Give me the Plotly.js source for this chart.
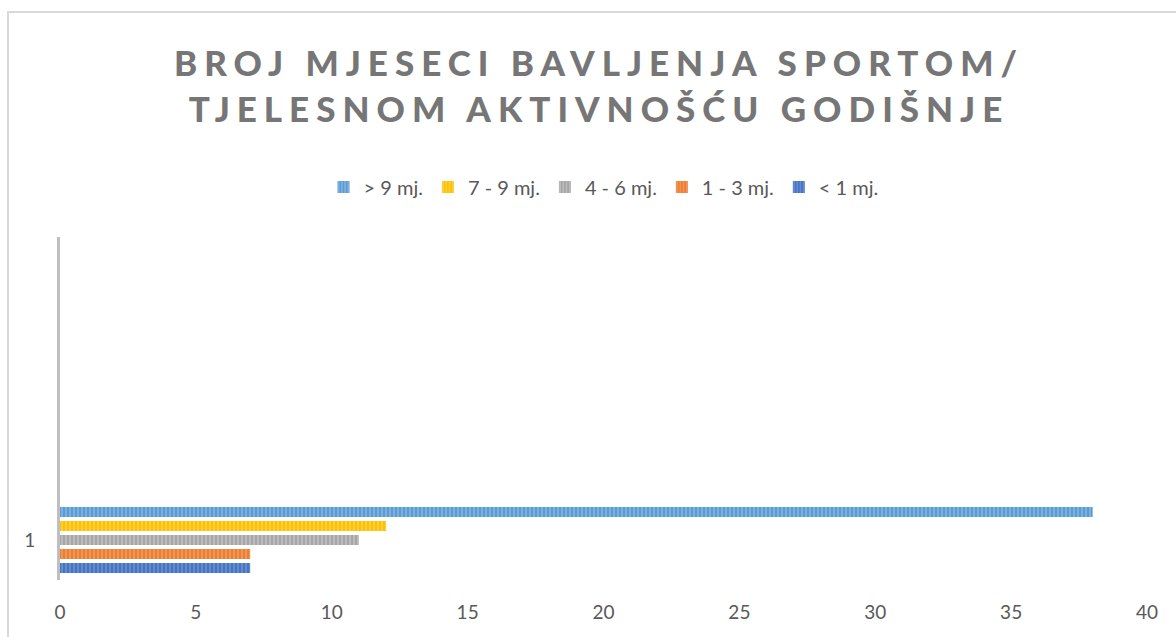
<!DOCTYPE html>
<html>
<head>
<meta charset="utf-8">
<script src="https://cdn.plot.ly/plotly-3.0.1.min.js"></script>
<style>html,body{margin:0;padding:0;background:#fff;}#chart{width:1176px;height:637px;}</style>
</head>
<body>
<div id="chart"></div>
<script>
const categories = ['1'];
const seriesNames = ['< 1 mj.', '1 - 3 mj.', '4 - 6 mj.', '7 - 9 mj.', '> 9 mj.'];
const seriesValues = [[7], [7], [11], [12], [38]];
const seriesColors = ['#4472C4', '#ED7D31', '#A5A5A5', '#FFC000', '#5B9BD5'];
const stripeColors = ['#6F93D3', '#F29B60', '#C2C2C2', '#FFD24D', '#85B6E2'];
const xTicks = [0, 5, 10, 15, 20, 25, 30, 35, 40];

const W = 1176, H = 637;
const L = 60, R = 29, T = 237, B = 57;
const pw = W - L - R, ph = H - T - B;

const traces = seriesNames.map((n, i) => ({
  type: 'bar',
  orientation: 'h',
  name: n,
  y: categories,
  x: seriesValues[i],
  marker: {
    color: seriesColors[i],
    line: {width: 0},
    pattern: {shape: '|', bgcolor: seriesColors[i], fgcolor: stripeColors[i], size: 4, solidity: 0.4}
  },
  hoverinfo: 'x+name'
}));

const layout = {
  width: W, height: H,
  margin: {l: L, r: R, t: T, b: B, pad: 0},
  paper_bgcolor: '#ffffff',
  plot_bgcolor: '#ffffff',
  font: {family: 'Lato, "Open Sans", sans-serif', color: '#595959', size: 19},
  title: {
    text: '<span style="letter-spacing:7px">BROJ MJESECI BAVLJENJA SPORTOM/</span><br><span style="letter-spacing:7px">TJELESNOM AKTIVNOŠĆU GODIŠNJE</span>',
    font: {family: 'Lato, "Open Sans", sans-serif', size: 35, color: '#767676', weight: 900},
    x: 599 / W, xanchor: 'center', xref: 'container',
    y: 1 - 76 / H, yanchor: 'top', yref: 'container'
  },
  barmode: 'group',
  bargap: 0.1,
  bargroupgap: 0.286,
  showlegend: true,
  legend: {
    orientation: 'h',
    traceorder: 'reversed',
    x: 0.5, xanchor: 'center',
    y: 1 + (T - 187) / ph, yanchor: 'middle',
    font: {size: 20, color: '#595959'},
    bgcolor: 'rgba(0,0,0,0)'
  },
  xaxis: {
    range: [0, 40],
    tickvals: xTicks,
    ticktext: xTicks.map(String),
    showgrid: false,
    zeroline: false,
    showline: false,
    ticks: '',
    ticklabelstandoff: 19,
    tickfont: {size: 19, color: '#595959'},
    fixedrange: true
  },
  yaxis: {
    type: 'category',
    range: [-40 / 77.8 , -40 / 77.8 + ph / 77.8],
    showgrid: false,
    zeroline: false,
    showline: true,
    linecolor: '#BFBFBF',
    linewidth: 3,
    ticks: '',
    ticklabelstandoff: 18,
    tickfont: {size: 19, color: '#595959'},
    fixedrange: true
  },
  shapes: [{
    type: 'rect', xref: 'paper', yref: 'paper', layer: 'below',
    x0: (8 - L) / pw, x1: (W + 20 - L) / pw,
    y0: -(B + 20) / ph, y1: 1 + (T - 12) / ph,
    line: {color: '#D9D9D9', width: 2}
  }]
};

Plotly.newPlot('chart', traces, layout, {displayModeBar: false, staticPlot: true});
</script>
</body>
</html>
